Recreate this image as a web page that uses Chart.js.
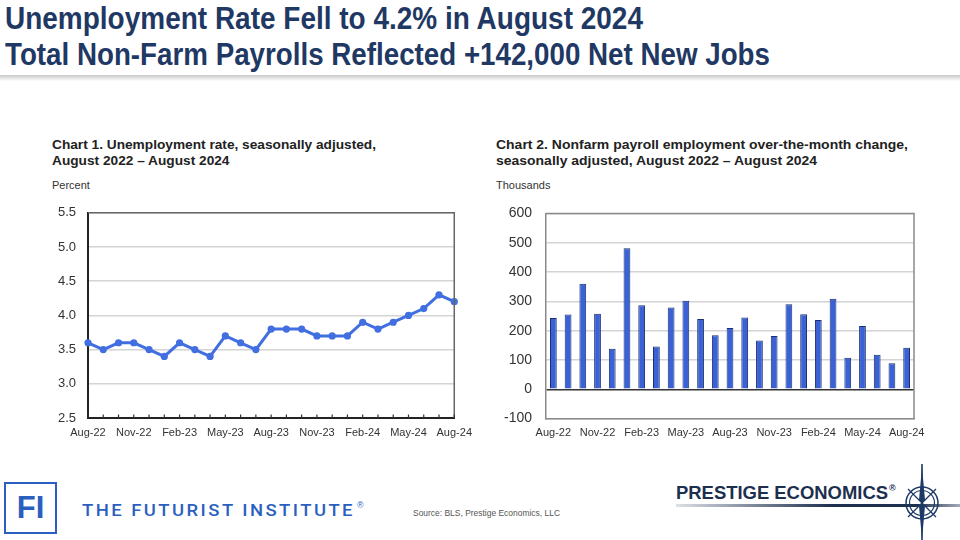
<!DOCTYPE html>
<html>
<head>
<meta charset="utf-8">
<script src="https://cdn.jsdelivr.net/npm/chart.js@4.4.1/dist/chart.umd.min.js"></script>
<style>
  html, body { margin: 0; padding: 0; background: #fff; }
  #page { position: relative; width: 960px; height: 540px; overflow: hidden; font-family: "Liberation Sans", Arial, sans-serif; }
  .abs { position: absolute; white-space: nowrap; }
  .head { left: 5px; font-family: "Liberation Sans Narrow", "Liberation Sans", sans-serif; font-weight: bold; font-size: 31px; color: #1f3864; line-height: 36px; transform-origin: 0 0; }
  .ctitle { font-weight: bold; font-size: 13.5px; line-height: 16px; color: #222; transform-origin: 0 0; }
  .unit { font-size: 11px; line-height: 13px; color: #333; }
  #shadow { left: 0; top: 75px; width: 960px; height: 6px; background: linear-gradient(#c8c8c8, #fff); }
  canvas { display: block; }
</style>
</head>
<body>
<div id="page">
  <div class="abs head" id="h1" style="top:1px">Unemployment Rate Fell to 4.2% in August 2024</div>
  <div class="abs head" id="h2" style="top:37px">Total Non-Farm Payrolls Reflected +142,000 Net New Jobs</div>
  <div class="abs" id="shadow"></div>

  <div class="abs ctitle" id="t1" style="left:52px; top:137px">Chart 1. Unemployment rate, seasonally adjusted,<br>August 2022 – August 2024</div>
  <div class="abs unit" style="left:52px; top:179px">Percent</div>
  <div class="abs ctitle" id="t2" style="left:496px; top:137px">Chart 2. Nonfarm payroll employment over-the-month change,<br>seasonally adjusted, August 2022 – August 2024</div>
  <div class="abs unit" style="left:496px; top:179px">Thousands</div>

  <div class="abs" style="left:40px; top:193px; width:440px; height:250px"><canvas id="chartRate"></canvas></div>
  <div class="abs" style="left:490px; top:191px; width:450px; height:250px"><canvas id="chartJobs"></canvas></div>

  <!-- logos -->
  <div class="abs" style="left:4px; top:482px; width:49px; height:48px; border:2.5px solid #2b5fbf; color:#2b5fbf; font:bold 31px 'Liberation Sans', sans-serif; line-height:48px; text-align:center;">FI</div>
  <div class="abs" id="fiText" style="left:82px; top:501px; font:500 16.5px Roboto, sans-serif; letter-spacing:2.2px; color:#2b5fbf; transform-origin:0 0;">THE FUTURIST INSTITUTE</div>
  <div class="abs" style="left:357px; top:500px; font:9px 'Liberation Sans', sans-serif; color:#2b5fbf;">®</div>
  <div class="abs" id="src" style="left:413px; top:508px; font:9px 'Liberation Sans Narrow', sans-serif; color:#555; transform-origin:0 0;">Source: BLS, Prestige Economics, LLC</div>

  <div class="abs" id="pe" style="left:676px; top:483px; font:bold 17.5px 'Liberation Sans', sans-serif; color:#1d2f4f; transform-origin:0 0;">PRESTIGE ECONOMICS</div>
  <div class="abs" style="left:889px; top:483px; font:bold 9px 'Liberation Sans', sans-serif; color:#1d2f4f;">®</div>
  <div class="abs" style="left:676px; top:504px; width:284px; height:3px; background:linear-gradient(90deg, rgba(29,47,79,0.15), #1d2f4f 55%, #1d2f4f 85%, rgba(29,47,79,0.4));"></div>
  <svg class="abs" style="left:880px; top:462px" width="80" height="78" viewBox="0 0 80 78">
    <g stroke="#1d3a66" fill="none">
      <circle cx="42" cy="41" r="16" stroke-width="1.5"/>
      <circle cx="42" cy="41" r="12.5" stroke-width="1.2"/>
      <line x1="42" y1="2" x2="42" y2="78" stroke-width="1.6"/>
      <line x1="28" y1="27" x2="56" y2="55" stroke-width="1.3"/>
      <line x1="56" y1="27" x2="28" y2="55" stroke-width="1.3"/>
    </g>
    <polygon points="42,5 45,38 42,41 39,38" fill="#1d3a66"/>
    <polygon points="42,77 45,44 42,41 39,44" fill="#1d3a66"/>
  </svg>
</div>

<script>
// data
const months = [
  "Aug-22", "Sep-22", "Oct-22", "Nov-22", "Dec-22",
  "Jan-23", "Feb-23", "Mar-23", "Apr-23", "May-23", "Jun-23", "Jul-23",
  "Aug-23", "Sep-23", "Oct-23", "Nov-23", "Dec-23",
  "Jan-24", "Feb-24", "Mar-24", "Apr-24", "May-24", "Jun-24", "Jul-24", "Aug-24"
];
const tickLabels = ["Aug-22", "Nov-22", "Feb-23", "May-23", "Aug-23", "Nov-23", "Feb-24", "May-24", "Aug-24"];

const unemploymentRate = [
  3.6, 3.5, 3.6, 3.6, 3.5,
  3.4, 3.6, 3.5, 3.4, 3.7, 3.6, 3.5,
  3.8, 3.8, 3.8, 3.7, 3.7,
  3.7, 3.9, 3.8, 3.9, 4.0, 4.1, 4.3, 4.2
];

const payrollChange = [
  243, 255, 360, 258, 138,
  481, 287, 146, 279, 302, 240, 184,
  209, 245, 166, 182, 290,
  256, 236, 309, 108, 216, 118, 89, 142
];

const rateTicks = { min: 2.5, max: 5.5, step: 0.5 };
const jobsTicks = { min: -100, max: 600, step: 100 };

function fitWidth(id, w) {
  const el = document.getElementById(id);
  if (!el) return;
  const cur = el.getBoundingClientRect().width;
  if (cur > 0) el.style.transform = "scaleX(" + (w / cur) + ")";
}

// frame around the plot area + small month ticks
const framePlugin = {
  id: "frame",
  afterDraw: function (chart, args, opts) {
    const a = chart.chartArea;
    const ctx = chart.ctx;
    ctx.save();
    ctx.strokeStyle = opts.color || "#888";
    ctx.lineWidth = opts.width || 1.5;
    ctx.beginPath();
    ctx.moveTo(a.left, a.top);
    ctx.lineTo(a.right, a.top);
    ctx.lineTo(a.right, a.bottom);
    ctx.stroke();
    if (opts.monthTicks) {
      const xs = chart.scales.x;
      ctx.strokeStyle = "#333";
      ctx.lineWidth = 1.2;
      for (let i = 0; i < months.length; i++) {
        const x = xs.getPixelForValue(i);
        ctx.beginPath();
        ctx.moveTo(x, a.bottom);
        ctx.lineTo(x, a.bottom - 3.5);
        ctx.stroke();
      }
    }
    ctx.restore();
  }
};

function tickCallback(value, index) {
  const lab = months[index];
  return tickLabels.indexOf(lab) !== -1 ? lab : "";
}

function crearLinea() {
  const ctx = document.getElementById("chartRate").getContext("2d");
  new Chart(ctx, {
    type: "line",
    data: {
      labels: months,
      datasets: [{
        data: unemploymentRate,
        borderColor: "#416ee0",
        backgroundColor: "#416ee0",
        borderWidth: 3,
        pointRadius: 3.6,
        pointBorderWidth: 0,
        tension: 0
      }]
    },
    options: {
      responsive: true,
      maintainAspectRatio: false,
      animation: false,
      layout: { padding: { top: 0, right: 19, left: 0, bottom: 0 } },
      plugins: {
        legend: { display: false },
        tooltip: { enabled: false },
        frame: { color: "#666", width: 1.5, monthTicks: true }
      },
      scales: {
        x: {
          offset: false,
          grid: { display: false, drawTicks: false },
          border: { color: "#222", width: 2 },
          ticks: {
            autoSkip: false, maxRotation: 0, minRotation: 0,
            padding: 8, color: "#333",
            font: { family: "Liberation Sans", size: 11 },
            callback: tickCallback
          },
          afterFit: function (s) { s.height = 25; }
        },
        y: {
          min: rateTicks.min, max: rateTicks.max,
          grid: { color: "#d4d4d4", lineWidth: 1.5, drawTicks: false },
          border: { color: "#222", width: 2 },
          ticks: {
            stepSize: rateTicks.step, padding: 12, color: "#333",
            font: { family: "Liberation Sans", size: 13 },
            callback: function (v) { return v.toFixed(1); }
          },
          afterFit: function (s) { s.width = 48; }
        }
      }
    },
    plugins: [framePlugin]
  });
}

function crearBarras() {
  const ctx = document.getElementById("chartJobs").getContext("2d");
  new Chart(ctx, {
    type: "bar",
    data: {
      labels: months,
      datasets: [{
        data: payrollChange,
        backgroundColor: "#3a62d6",
        borderColor: "#1b2f6e",
        borderWidth: 1,
        barPercentage: 0.46,
        categoryPercentage: 1
      }]
    },
    options: {
      responsive: true,
      maintainAspectRatio: false,
      animation: false,
      layout: { padding: { top: 0, right: 26, left: 0, bottom: 0 } },
      plugins: {
        legend: { display: false },
        tooltip: { enabled: false },
        frame: { color: "#8a8a8a", width: 1.5, monthTicks: false }
      },
      scales: {
        x: {
          offset: true,
          grid: { display: false, drawTicks: false },
          border: { color: "#8a8a8a", width: 1.5 },
          ticks: {
            autoSkip: false, maxRotation: 0, minRotation: 0,
            padding: 8, color: "#333",
            font: { family: "Liberation Sans", size: 11 },
            callback: tickCallback
          },
          afterFit: function (s) { s.height = 22; }
        },
        y: {
          min: jobsTicks.min, max: jobsTicks.max,
          grid: {
            drawTicks: false,
            color: function (c) { return c.tick && c.tick.value === 0 ? "#333" : "#d4d4d4"; },
            lineWidth: 1.5
          },
          border: { color: "#8a8a8a", width: 1.5 },
          ticks: {
            stepSize: jobsTicks.step, padding: 14, color: "#333",
            font: { family: "Liberation Sans", size: 14 }
          },
          afterFit: function (s) { s.width = 56; }
        }
      }
    },
    plugins: [framePlugin]
  });
}

fitWidth("h1", 638);
fitWidth("h2", 765);
fitWidth("t1", 324);
fitWidth("t2", 412);
fitWidth("fiText", 273);
fitWidth("src", 147);
fitWidth("pe", 212);

crearLinea();
crearBarras();
</script>
</body>
</html>
